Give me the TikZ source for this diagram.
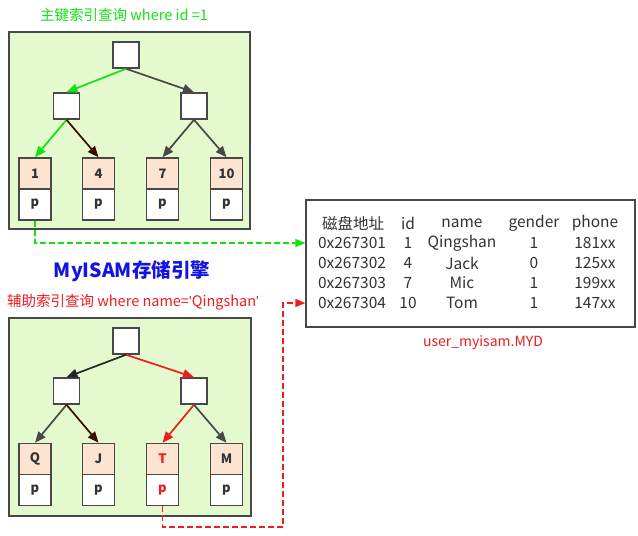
\documentclass[tikz,border=0pt]{standalone}
\usepackage{fontspec}
\setmainfont{Noto Sans CJK SC}
\newfontfamily\qfont{Liberation Sans}
\usetikzlibrary{arrows.meta}
\definecolor{panelbg}{RGB}{228,250,206}
\definecolor{peach}{RGB}{252,228,208}
\definecolor{edge}{RGB}{72,72,72}
\definecolor{ggreen}{RGB}{20,225,20}
\definecolor{rred}{RGB}{235,30,30}
\definecolor{bblue}{RGB}{20,20,225}
\definecolor{brown}{RGB}{60,10,0}
\definecolor{txt}{RGB}{50,50,50}
\newcommand{\sq}{{\qfont\symbol{39}}}
\tikzset{
  panel/.style={draw=edge, line width=1.6pt, fill=panelbg},
  inner/.style={draw=edge, line width=1.5pt, fill=white, minimum width=26pt, minimum height=26pt, inner sep=0pt},
  leaftop/.style={draw=edge, line width=1.5pt, fill=peach, minimum width=32pt, minimum height=31pt, inner sep=0pt, font=\fontsize{13}{14}\selectfont\bfseries, text=txt},
  leafbot/.style={draw=edge, line width=1.5pt, fill=white, minimum width=32pt, minimum height=31pt, inner sep=0pt, font=\fontsize{13}{14}\selectfont\bfseries, text=txt},
  tarr/.style={line width=1.7pt, -{Triangle[length=11pt,width=9pt]}},
  tbltxt/.style={font=\fontsize{15.5}{16}\selectfont, text=txt, inner sep=0pt, anchor=center},
  dashline/.style={line width=1.3pt, dash pattern=on 6pt off 3pt, -{Triangle[length=10pt,width=8pt]}},
}
\begin{document}
\begin{tikzpicture}[x=1pt,y=-1pt]
\useasboundingbox[fill=white] (0,0) rectangle (638,536);

% ===== top panel =====
\node[panel, minimum width=241pt, minimum height=197pt, inner sep=0pt] (p1) at (129.5,130.5) {};
\node[font=\fontsize{14.5}{15}\selectfont, text=ggreen] (t1) at (124,15) {主键索引查询 where id =1};
\node[inner] (r1) at (126,55) {};
\node[inner] (m1) at (66.5,106) {};
\node[inner] (n1) at (194,106) {};
\node[leaftop] (a1t) at (35,173.5) {1};
\node[leafbot] (a1b) at (35,204.5) {p};
\node[leaftop] (a2t) at (98.5,173.5) {4};
\node[leafbot] (a2b) at (98.5,204.5) {p};
\node[leaftop] (a3t) at (162.5,173.5) {7};
\node[leafbot] (a3b) at (162.5,204.5) {p};
\node[leaftop] (a4t) at (226.5,173.5) {10};
\node[leafbot] (a4b) at (226.5,204.5) {p};
\draw[tarr, ggreen] (r1.south) -- (m1.north);
\draw[tarr, edge] (r1.south) -- (n1.north);
\draw[tarr, ggreen] (m1.south) -- (a1t.north);
\draw[tarr, brown] (m1.south) -- (a2t.north);
\draw[tarr, edge] (n1.south) -- (a3t.north);
\draw[tarr, edge] (n1.south) -- (a4t.north);

% ===== title =====
\node[font=\fontsize{19.5}{21}\selectfont\bfseries, text=bblue] (title) at (132,271) {MyISAM存储引擎};

% ===== bottom panel =====
\node[font=\fontsize{14.5}{15}\selectfont, text=rred] (t2) at (133,302) {辅助索引查询 where name=\sq Qingshan\sq};
\node[panel, minimum width=242pt, minimum height=198pt, inner sep=0pt] (p2) at (130,417) {};
\node[inner] (r2) at (126,341) {};
\node[inner] (m2) at (66.5,391) {};
\node[inner] (n2) at (194,391) {};
\node[leaftop] (b1t) at (35,459) {Q};
\node[leafbot] (b1b) at (35,490) {p};
\node[leaftop] (b2t) at (98.5,459) {J};
\node[leafbot] (b2b) at (98.5,490) {p};
\node[leaftop, text=rred] (b3t) at (162.5,459) {T};
\node[leafbot, text=rred] (b3b) at (162.5,490) {p};
\node[leaftop] (b4t) at (226.5,459) {M};
\node[leafbot] (b4b) at (226.5,490) {p};
\draw[tarr, black!85] (r2.south) -- (m2.north);
\draw[tarr, rred] (r2.south) -- (n2.north);
\draw[tarr, edge] (m2.south) -- (b1t.north);
\draw[tarr, brown] (m2.south) -- (b2t.north);
\draw[tarr, rred] (n2.south) -- (b3t.north);
\draw[tarr, edge] (n2.south) -- (b4t.north);

% ===== table =====
\node[draw=edge, line width=1.3pt, fill=white, minimum width=329pt, minimum height=127pt, inner sep=0pt] (tbl) at (470.5,263.5) {};
\node[tbltxt] (h1) at (353,223) {磁盘地址};
\node[tbltxt] (h2) at (408,223) {id};
\node[tbltxt] (h3) at (462,223) {name};
\node[tbltxt] (h4) at (534,223) {gender};
\node[tbltxt] (h5) at (595,223) {phone};
\node[tbltxt] (ad1) at (352,243) {0x267301};
\node[tbltxt] (id1) at (408,243) {1};
\node[tbltxt] (nm1) at (462,243) {Qingshan};
\node[tbltxt] (gd1) at (534,243) {1};
\node[tbltxt] (ph1) at (595,243) {181xx};
\node[tbltxt] (ad2) at (352,263) {0x267302};
\node[tbltxt] (id2) at (408,263) {4};
\node[tbltxt] (nm2) at (462,263) {Jack};
\node[tbltxt] (gd2) at (534,263) {0};
\node[tbltxt] (ph2) at (595,263) {125xx};
\node[tbltxt] (ad3) at (352,283) {0x267303};
\node[tbltxt] (id3) at (408,283) {7};
\node[tbltxt] (nm3) at (462,283) {Mic};
\node[tbltxt] (gd3) at (534,283) {1};
\node[tbltxt] (ph3) at (595,283) {199xx};
\node[tbltxt] (ad4) at (352,303) {0x267304};
\node[tbltxt] (id4) at (408,303) {10};
\node[tbltxt] (nm4) at (462,303) {Tom};
\node[tbltxt] (gd4) at (534,303) {1};
\node[tbltxt] (ph4) at (595,303) {147xx};
\node[font=\fontsize{14}{15}\selectfont, text=rred] (cap) at (483,343) {user\_myisam.MYD};

% ===== dashed connectors =====
\draw[dashline, ggreen] (a1b.south) |- (tbl.west |- ad1);
\coordinate (rc) at (283,527);
\draw[dashline, rred] (b3b.south) |- (rc) |- (tbl.west |- ad4);
\end{tikzpicture}
\end{document}
